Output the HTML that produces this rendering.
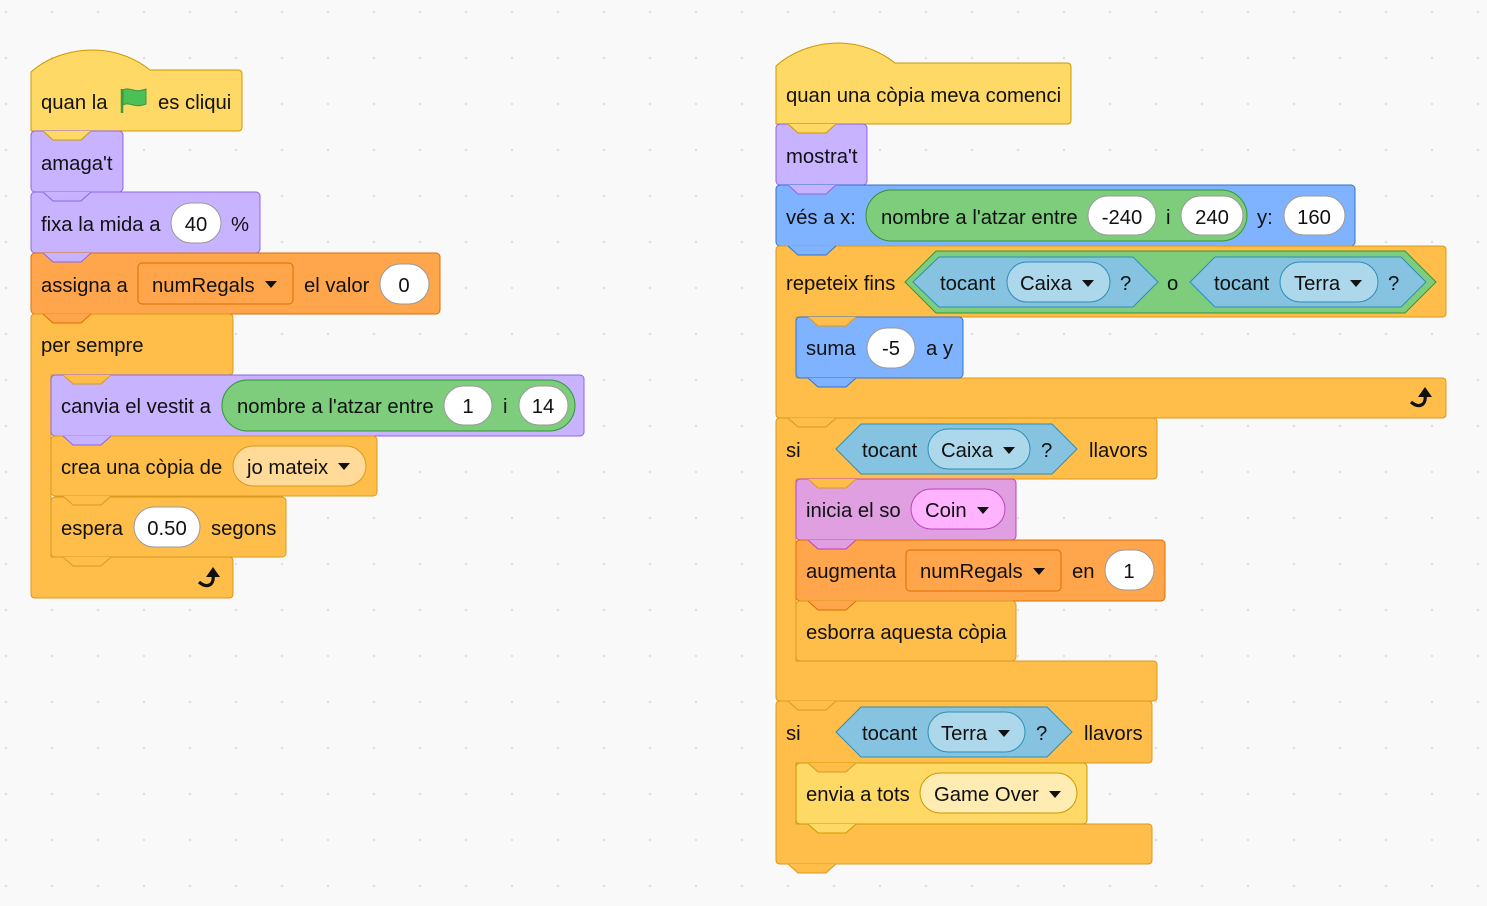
<!DOCTYPE html>
<html><head><meta charset="utf-8"><style>
html,body{margin:0;padding:0;background:#f9f9f9;}
svg{display:block;}
text{font-family:"Liberation Sans",Arial,sans-serif;font-size:20.3px;fill:#111;}
.ev{fill:#FFD966;stroke:#CC9900;stroke-width:1}
.lo{fill:#C7B3FF;stroke:#8E65E8;stroke-width:1}
.va{fill:#FFA64D;stroke:#DB6E00;stroke-width:1}
.co{fill:#FFBE4A;stroke:#D99A1E;stroke-width:1}
.mo{fill:#80B3FF;stroke:#3373CC;stroke-width:1}
.op{fill:#7DCD7D;stroke:#389438;stroke-width:1}
.se{fill:#85C3E0;stroke:#2E8EB8;stroke-width:1}
.sp{fill:#ADD7EA;stroke:#2E8EB8;stroke-width:1}
.so{fill:#E09FE0;stroke:#BD42BD;stroke-width:1}
.sop{fill:#FFB3FF;stroke:#BD42BD;stroke-width:1}
.inp{fill:#fff;stroke:#999;stroke-width:1}
.cdp{fill:#FFDA99;stroke:#D99A1E;stroke-width:1}
.edp{fill:#FFECB3;stroke:#CC9900;stroke-width:1}
.tri{fill:#111}
</style></head><body>
<svg width="1487" height="906" viewBox="0 0 1487 906" xmlns="http://www.w3.org/2000/svg">
<defs><pattern id="dots" width="46" height="46" patternUnits="userSpaceOnUse" x="4" y="10"><circle cx="2" cy="2" r="1.2" fill="#ddd"/></pattern></defs>
<rect width="1487" height="906" fill="#f9f9f9"/>
<rect width="1487" height="906" fill="url(#dots)"/>

<!-- LEFT SCRIPT -->
<path class="ev" d="M31,131 V72 C50,55 75,50 93,50 C115,50 135,58 150,70 H238 Q242,70 242,74 V127 Q242,131 238,131 Z"/>
<rect class="lo" x="31" y="131" width="92" height="61" rx="4"/>
<rect class="lo" x="31" y="192" width="229" height="61" rx="4"/>
<rect class="va" x="31" y="253" width="409" height="61" rx="4"/>
<path class="co" d="M35,314 H229 Q233,314 233,318 V371 Q233,375 229,375 H51 V557 H229 Q233,557 233,561 V594 Q233,598 229,598 H35 Q31,598 31,594 V318 Q31,314 35,314 Z"/>
<rect class="lo" x="51" y="375" width="533" height="61" rx="4"/>
<rect class="co" x="51" y="436" width="326" height="60" rx="4"/>
<rect class="co" x="51" y="497" width="235" height="60" rx="4"/>
<!-- tabs left -->
<path class="ev" d="M43,131 L53,140 L81,140 L91,131"/>
<path class="lo" d="M43,192 L53,201 L81,201 L91,192"/>
<path class="lo" d="M43,253 L53,262 L81,262 L91,253"/>
<path class="va" d="M43,314 L53,323 L81,323 L91,314"/>
<path class="co" d="M63,375 L73,384 L101,384 L111,375"/>
<path class="lo" d="M63,436 L73,445 L101,445 L111,436"/>
<path class="co" d="M63,496 L73,505 L101,505 L111,496"/>
<path class="co" d="M63,557 L73,566 L101,566 L111,557"/>

<text x="41" y="109">quan la</text>
<line x1="122" y1="89" x2="122" y2="113" stroke="#3c9a3c" stroke-width="2.5"/>
<path d="M123,90 C130,86 134,94 146,89 V104 C134,109 130,101 123,105 Z" fill="#4CBF56" stroke="#3c9a3c" stroke-width="1"/>
<text x="158" y="109">es cliqui</text>
<text x="41" y="170">amaga't</text>
<text x="41" y="231">fixa la mida a</text>
<rect class="inp" x="171" y="203" width="50" height="40" rx="20"/>
<text x="196" y="231" text-anchor="middle">40</text>
<text x="231" y="231">%</text>
<text x="41" y="292">assigna a</text>
<rect class="va" x="138" y="263" width="155" height="41" rx="4"/>
<text x="152" y="292">numRegals</text>
<path class="tri" d="M265,281 L277,281 L271,288 Z"/>
<text x="304" y="292">el valor</text>
<rect class="inp" x="380" y="264" width="49" height="40" rx="20"/>
<text x="404" y="292" text-anchor="middle">0</text>
<text x="41" y="352">per sempre</text>
<text x="61" y="413">canvia el vestit a</text>
<rect class="op" x="222" y="380" width="353" height="51" rx="25.5"/>
<text x="237" y="413">nombre a l'atzar entre</text>
<rect class="inp" x="444" y="386" width="48" height="39" rx="19.5"/>
<text x="468" y="413" text-anchor="middle">1</text>
<text x="503" y="413">i</text>
<rect class="inp" x="519" y="386" width="49" height="39" rx="19.5"/>
<text x="543" y="413" text-anchor="middle">14</text>
<text x="61" y="474">crea una còpia de</text>
<rect class="cdp" x="233" y="446" width="133" height="40" rx="20"/>
<text x="247" y="474">jo mateix</text>
<path class="tri" d="M338,463 L350,463 L344,470 Z"/>
<text x="61" y="535">espera</text>
<rect class="inp" x="134" y="507" width="66" height="40" rx="20"/>
<text x="167" y="535" text-anchor="middle">0.50</text>
<text x="211" y="535">segons</text>
<g id="arr">
<path d="M199,582 Q206,588 211,584 Q214,581 213,574" fill="none" stroke="#111" stroke-width="3.2"/>
<path d="M206,577 L213,567 L220,577 Z" fill="#111"/>
</g>

<!-- RIGHT SCRIPT -->
<path class="ev" d="M776,124 V66 C795,49 820,43 838,43 C860,43 880,51 895,63 H1067 Q1071,63 1071,67 V120 Q1071,124 1067,124 Z"/>
<rect class="lo" x="776" y="124" width="91" height="61" rx="4"/>
<rect class="mo" x="776" y="185" width="579" height="61" rx="4"/>
<path class="co" d="M780,246 H1442 Q1446,246 1446,250 V313 Q1446,317 1442,317 H796 V378 H1442 Q1446,378 1446,382 V414 Q1446,418 1442,418 H780 Q776,418 776,414 V250 Q776,246 780,246 Z"/>
<rect class="mo" x="796" y="317" width="167" height="61" rx="4"/>
<path class="co" d="M780,418 H1153 Q1157,418 1157,422 V475 Q1157,479 1153,479 H796 V661 H1153 Q1157,661 1157,665 V697 Q1157,701 1153,701 H780 Q776,701 776,697 V422 Q776,418 780,418 Z"/>
<rect class="so" x="796" y="479" width="220" height="61" rx="4"/>
<rect class="va" x="796" y="540" width="369" height="61" rx="4"/>
<rect class="co" x="796" y="601" width="220" height="60" rx="4"/>
<path class="co" d="M780,701 H1148 Q1152,701 1152,705 V759 Q1152,763 1148,763 H796 V824 H1148 Q1152,824 1152,828 V860 Q1152,864 1148,864 H780 Q776,864 776,860 V705 Q776,701 780,701 Z"/>
<rect class="ev" x="796" y="763" width="291" height="61" rx="4"/>
<!-- tabs right -->
<path class="ev" d="M788,124 L798,133 L826,133 L836,124"/>
<path class="lo" d="M788,185 L798,194 L826,194 L836,185"/>
<path class="mo" d="M788,246 L798,255 L826,255 L836,246"/>
<path class="co" d="M808,317 L818,326 L846,326 L856,317"/>
<path class="mo" d="M808,378 L818,387 L846,387 L856,378"/>
<path class="co" d="M788,418 L798,427 L826,427 L836,418"/>
<path class="co" d="M808,479 L818,488 L846,488 L856,479"/>
<path class="so" d="M808,540 L818,549 L846,549 L856,540"/>
<path class="va" d="M808,601 L818,610 L846,610 L856,601"/>
<path class="co" d="M788,701 L798,710 L826,710 L836,701"/>
<path class="co" d="M808,763 L818,772 L846,772 L856,763"/>
<path class="ev" d="M808,824 L818,833 L846,833 L856,824"/>
<path class="co" d="M788,864 L798,873 L826,873 L836,864"/>

<text x="786" y="102">quan una còpia meva comenci</text>
<text x="786" y="163">mostra't</text>
<text x="786" y="224">vés a x:</text>
<rect class="op" x="866" y="190" width="381" height="51" rx="25.5"/>
<text x="881" y="224">nombre a l'atzar entre</text>
<rect class="inp" x="1088" y="196" width="68" height="39" rx="19.5"/>
<text x="1122" y="224" text-anchor="middle">-240</text>
<text x="1166" y="224">i</text>
<rect class="inp" x="1181" y="196" width="62" height="39" rx="19.5"/>
<text x="1212" y="224" text-anchor="middle">240</text>
<text x="1257" y="224">y:</text>
<rect class="inp" x="1284" y="196" width="61" height="39" rx="19.5"/>
<text x="1314" y="224" text-anchor="middle">160</text>

<text x="786" y="290">repeteix fins</text>
<path class="op" d="M905,282 L936,251 L1405,251 L1436,282 L1405,313 L936,313 Z"/>
<path class="se" d="M913,282 L939,257 L1133,257 L1158,282 L1133,307 L939,307 Z"/>
<text x="940" y="290">tocant</text>
<rect class="sp" x="1007" y="262" width="103" height="40" rx="20"/>
<text x="1020" y="290">Caixa</text>
<path class="tri" d="M1082,280 L1094,280 L1088,287 Z"/>
<text x="1120" y="290">?</text>
<text x="1167" y="290">o</text>
<path class="se" d="M1190,282 L1215,257 L1401,257 L1426,282 L1401,307 L1215,307 Z"/>
<text x="1214" y="290">tocant</text>
<rect class="sp" x="1280" y="262" width="98" height="40" rx="20"/>
<text x="1294" y="290">Terra</text>
<path class="tri" d="M1350,280 L1362,280 L1356,287 Z"/>
<text x="1388" y="290">?</text>

<text x="806" y="355">suma</text>
<rect class="inp" x="867" y="328" width="48" height="40" rx="20"/>
<text x="891" y="355" text-anchor="middle">-5</text>
<text x="926" y="355">a y</text>
<use href="#arr" transform="translate(1212,-180)"/>

<text x="786" y="457">si</text>
<path class="se" d="M836,449 L861,424 L1052,424 L1077,449 L1052,474 L861,474 Z"/>
<text x="862" y="457">tocant</text>
<rect class="sp" x="928" y="429" width="102" height="40" rx="20"/>
<text x="941" y="457">Caixa</text>
<path class="tri" d="M1003,447 L1015,447 L1009,454 Z"/>
<text x="1041" y="457">?</text>
<text x="1089" y="457">llavors</text>
<text x="806" y="517">inicia el so</text>
<rect class="sop" x="911" y="489" width="94" height="40" rx="20"/>
<text x="925" y="517">Coin</text>
<path class="tri" d="M977,507 L989,507 L983,514 Z"/>
<text x="806" y="578">augmenta</text>
<rect class="va" x="906" y="550" width="155" height="41" rx="4"/>
<text x="920" y="578">numRegals</text>
<path class="tri" d="M1033,568 L1045,568 L1039,575 Z"/>
<text x="1072" y="578">en</text>
<rect class="inp" x="1105" y="550" width="49" height="40" rx="20"/>
<text x="1129" y="578" text-anchor="middle">1</text>
<text x="806" y="639">esborra aquesta còpia</text>

<text x="786" y="740">si</text>
<path class="se" d="M836,732 L861,707 L1047,707 L1072,732 L1047,757 L861,757 Z"/>
<text x="862" y="740">tocant</text>
<rect class="sp" x="928" y="712" width="97" height="40" rx="20"/>
<text x="941" y="740">Terra</text>
<path class="tri" d="M998,730 L1010,730 L1004,737 Z"/>
<text x="1036" y="740">?</text>
<text x="1084" y="740">llavors</text>
<text x="806" y="801">envia a tots</text>
<rect class="edp" x="920" y="773" width="157" height="40" rx="20"/>
<text x="934" y="801">Game Over</text>
<path class="tri" d="M1049,791 L1061,791 L1055,798 Z"/>
</svg>
</body></html>
